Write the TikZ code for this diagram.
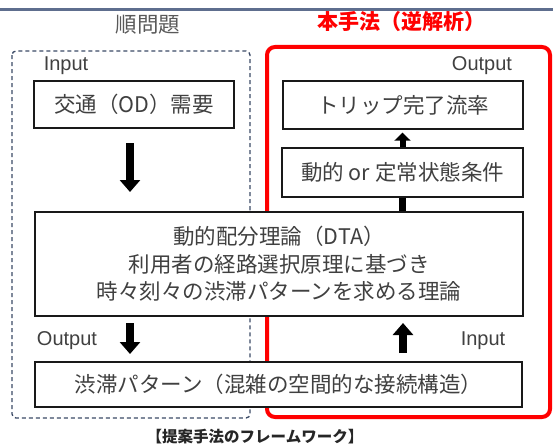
\documentclass[tikz,border=0pt]{standalone}
\usepackage{fontspec}
\setmainfont{Noto Sans CJK JP}
\newfontfamily\latinfont{Liberation Sans}
\usetikzlibrary{arrows.meta,calc}
\definecolor{txtgray}{HTML}{404040}
\definecolor{titlegray}{HTML}{595959}
\definecolor{rulecol}{HTML}{5E6E8E}
\definecolor{dashblue}{HTML}{3B4A66}
\begin{document}
\begin{tikzpicture}[x=1pt,y=-1pt,
  box/.style={draw=black!90,line width=1.4pt,inner sep=0pt,text=txtgray,font=\fontsize{21.5}{27.5}\selectfont,align=center},
  iolabel/.style={text=txtgray,font=\latinfont\fontsize{20}{24}\selectfont,inner sep=0pt,anchor=base},
  blockarrow/.style={line width=8pt,-{Triangle[width=20pt,length=12pt]}},
  smallarrow/.style={line width=6pt,-{Triangle[width=16pt,length=8pt]}}]
\useasboundingbox (0,0) rectangle (553,444);
% top rule
\fill[rulecol] (0,8.5) rectangle (553,11);
% titles
\node[text=titlegray,font=\fontsize{21.5}{24}\selectfont,inner sep=0pt] (t1) at (148,25) {順問題};
\node[text=red,font=\bfseries\fontsize{21}{24}\selectfont,inner sep=0pt] (t2) at (401,22) {本手法（逆解析）};
% frames
\draw[dashblue,line width=1.3pt,dash pattern=on 4pt off 3pt,rounded corners=4pt] (12,51) rectangle (250,418);
\draw[red,line width=4pt,rounded corners=8pt] (267,47) rectangle (550,417);
% labels
\node[iolabel] (in1) at (66,70) {Input};
\node[iolabel] (out1) at (482,70) {Output};
\node[iolabel] (out2) at (67,345) {Output};
\node[iolabel] (in2) at (483,345) {Input};
% boxes
\node[box,minimum width=200pt,minimum height=47pt] (od) at (134,104.5) {交通（OD）需要};
\node[box,minimum width=240pt,minimum height=48pt] (trip) at (403,105) {トリップ完了流率};
\node[box,minimum width=241pt,minimum height=49pt] (cond) at (402.5,172.5) {動的 or 定常状態条件};
\node[box,minimum width=488pt,minimum height=104pt,fill=white] (dta) at (279,264) {動的配分理論（DTA）\\利用者の経路選択原理に基づき\\時々刻々の渋滞パターンを求める理論};
\node[box,minimum width=487pt,minimum height=45pt,fill=white] (jam) at (278.5,384.5) {渋滞パターン（混雑の空間的な接続構造）};
% arrows
\coordinate (a1s) at (130,143);
\coordinate (a1e) at (130,192);
\draw[blockarrow] (a1s) -- (a1e);
\draw[line width=7pt] (cond.south) -- (dta.north -| cond.south);
\draw[smallarrow,shorten >=3pt] (cond.north) -- (trip.south -| cond.north);
\coordinate (a3s) at (130,323);
\coordinate (a3e) at (130,354);
\draw[blockarrow] (a3s) -- (a3e);
\coordinate (a4s) at (403,353);
\coordinate (a4e) at (403,323);
\draw[blockarrow] (a4s) -- (a4e);
% caption
\node[text=black!85,font=\bfseries\fontsize{15.5}{18}\selectfont,inner sep=0pt] (cap) at (255,437) {【提案手法のフレームワーク】};
\end{tikzpicture}
\end{document}
